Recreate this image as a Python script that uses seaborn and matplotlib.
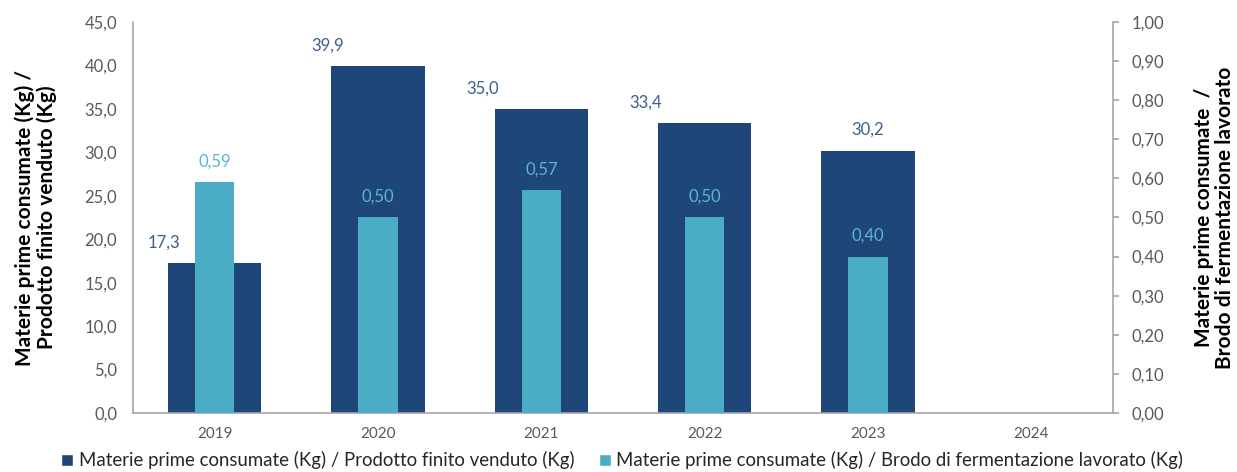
import matplotlib
matplotlib.use("Agg")
import matplotlib.pyplot as plt
from matplotlib.patches import Patch
from matplotlib.ticker import FuncFormatter
import numpy as np
import pandas as pd
import seaborn as sns

# Data
years = ["2019", "2020", "2021", "2022", "2023", "2024"]
per_prodotto = [17.3, 39.9, 35.0, 33.4, 30.2, np.nan]     # Kg materie prime / Kg prodotto finito venduto
per_brodo = [0.59, 0.50, 0.57, 0.50, 0.40, np.nan]        # Kg materie prime / Kg brodo di fermentazione lavorato
serie_prodotto = "Materie prime consumate (Kg) / Prodotto finito venduto (Kg)"
serie_brodo = "Materie prime consumate (Kg) / Brodo di fermentazione lavorato (Kg)"

# Styling
DARK = "#1F4678"
LIGHT = "#4BACC6"
DARK_LBL = "#3B5F8C"
LIGHT_LBL = "#5BB6CF"
TICK_C = "#595959"
SPINE_C = "#A6A6A6"
W_DARK, W_LIGHT = 0.57, 0.24
# horizontal nudge (points) of the dark-bar value labels relative to the bar's left edge
dark_lbl_nudge = [-3, -3, -9, -9, None, None]

sns.set_theme(style="white")
plt.rcParams["font.family"] = ["Lato", "DejaVu Sans"]

df = pd.DataFrame({"anno": years, "prodotto": per_prodotto, "brodo": per_brodo})

fig = plt.figure(figsize=(12.37, 4.72), dpi=100)
ax = fig.add_axes([0.1075, 0.125, 0.7923, 0.8284])
ax2 = ax.twinx()

sns.barplot(data=df, x="anno", y="prodotto", order=years, color=DARK,
            width=W_DARK, saturation=1, ax=ax, errorbar=None, linewidth=0)
sns.barplot(data=df, x="anno", y="brodo", order=years, color=LIGHT,
            width=W_LIGHT, saturation=1, ax=ax2, errorbar=None, linewidth=0)

ax.set_xlim(-0.5, len(years) - 0.5)
ax.set_ylim(0, 45)
ax.set_yticks(np.arange(0, 45.1, 5))
ax2.set_ylim(0, 1.0)
ax2.set_yticks(np.arange(0, 1.001, 0.1))

ax.yaxis.set_major_formatter(FuncFormatter(lambda v, p: f"{v:.1f}".replace(".", ",")))
ax2.yaxis.set_major_formatter(FuncFormatter(lambda v, p: f"{v:.2f}".replace(".", ",")))

for a in (ax, ax2):
    for s in a.spines.values():
        s.set_visible(False)
ax.spines["left"].set_visible(True)
ax.spines["bottom"].set_visible(True)
ax2.spines["right"].set_visible(True)
for s in (ax.spines["left"], ax.spines["bottom"], ax2.spines["right"]):
    s.set_color(SPINE_C)
    s.set_linewidth(1.2)

ax.tick_params(axis="y", length=0, labelsize=12, labelcolor=TICK_C, pad=11.5)
ax.tick_params(axis="x", length=0, labelsize=11, labelcolor=TICK_C, pad=10)
ax2.tick_params(axis="y", length=4, width=1.2, color=SPINE_C, labelsize=12,
                labelcolor=TICK_C, pad=9)

ax.set_xlabel("")
ax.set_ylabel("Materie prime consumate (Kg) /\nProdotto finito venduto (Kg)",
              fontsize=15, fontweight="bold", color="black", labelpad=20, linespacing=1.05)
ax2.set_ylabel("Materie prime consumate  /\nBrodo di fermentazione lavorato",
               fontsize=15, fontweight="bold", color="black", labelpad=22,
               rotation=90, linespacing=1.05)
ax2.yaxis.set_label_position("right")

# Value labels
for i, (vp, vb) in enumerate(zip(per_prodotto, per_brodo)):
    if not np.isnan(vp):
        nudge = dark_lbl_nudge[i]
        if nudge is None:
            xpos, dx = i, 0
        else:
            xpos, dx = i - W_DARK / 2, nudge
        ax.annotate(f"{vp:.1f}".replace(".", ","), (xpos, vp), xytext=(dx, 9),
                    textcoords="offset points", ha="center", va="bottom",
                    fontsize=12, color=DARK_LBL)
    if not np.isnan(vb):
        ax2.annotate(f"{vb:.2f}".replace(".", ","), (i, vb), xytext=(0, 9),
                     textcoords="offset points", ha="center", va="bottom",
                     fontsize=12, color=LIGHT_LBL)

handles = [Patch(facecolor=DARK, label=serie_prodotto),
           Patch(facecolor=LIGHT, label=serie_brodo)]
fig.legend(handles=handles, loc="lower center", bbox_to_anchor=(0.503, -0.03), ncol=2,
           frameon=False, fontsize=13.4, handlelength=0.65, handleheight=0.65,
           handletextpad=0.3, columnspacing=1.3)

fig.savefig("out.png", dpi=100)
